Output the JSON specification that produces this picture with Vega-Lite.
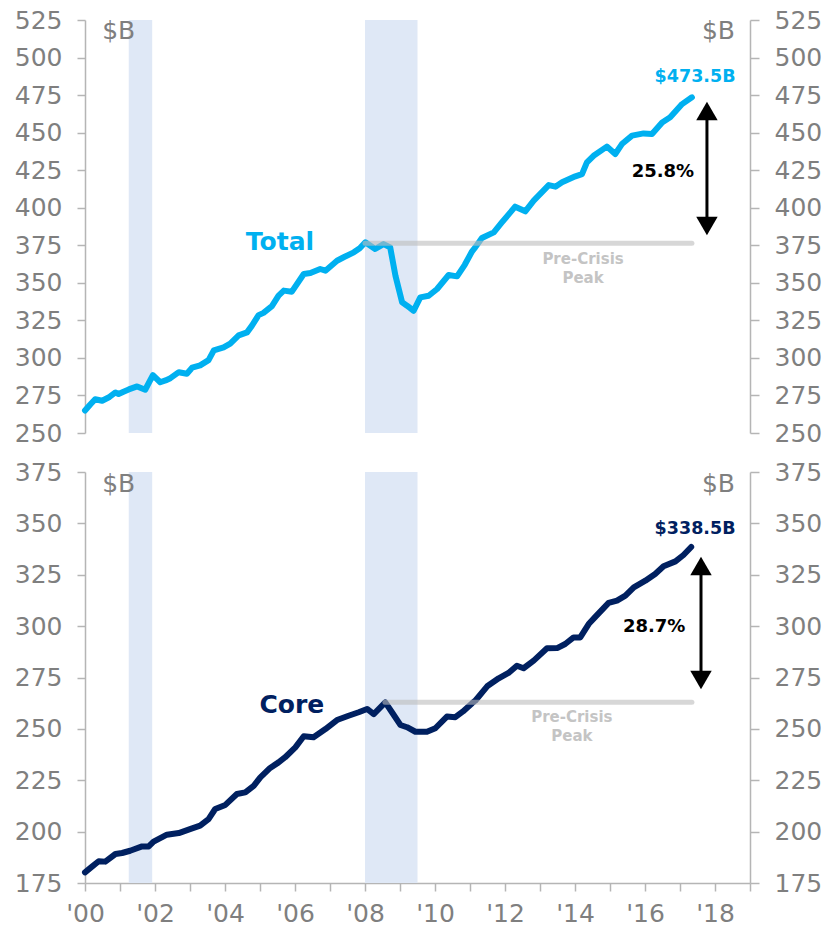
{
  "$schema": "https://vega.github.io/schema/vega-lite/v6.json",
  "padding": {"left": 14, "top": 8, "right": 5, "bottom": 5},
  "background": "white",
  "config": {
    "view": {"stroke": null},
    "font": "DejaVu Sans",
    "axis": {"labelFont": "DejaVu Sans", "labelFontSize": 25, "labelColor": "#7f7f7f", "domainColor": "#b5b5b5", "tickColor": "#b5b5b5", "domainWidth": 1.5, "tickWidth": 1.5, "grid": false, "title": null, "tickSize": 8, "labelPadding": 15, "labelFlush": false, "labelOverlap": false}
  },
  "datasets": {
    "recessions": [{"x": 2001.25, "x2": 2001.92}, {"x": 2008.0, "x2": 2009.5}],
    "total": [
      {"x": 2000.0, "value": 265}, {"x": 2000.15, "value": 269}, {"x": 2000.29, "value": 272.5}, {"x": 2000.49, "value": 271.5}, {"x": 2000.7, "value": 274}, {"x": 2000.87, "value": 277}, {"x": 2000.96, "value": 276}, {"x": 2001.1, "value": 277.5}, {"x": 2001.25, "value": 279}, {"x": 2001.49, "value": 281}, {"x": 2001.72, "value": 278.8}, {"x": 2001.94, "value": 288.5}, {"x": 2002.15, "value": 283.8}, {"x": 2002.3, "value": 285}, {"x": 2002.44, "value": 286.5}, {"x": 2002.68, "value": 290.5}, {"x": 2002.91, "value": 289.5}, {"x": 2003.06, "value": 293.5}, {"x": 2003.29, "value": 295}, {"x": 2003.53, "value": 298.5}, {"x": 2003.68, "value": 305}, {"x": 2003.96, "value": 307}, {"x": 2004.15, "value": 309.5}, {"x": 2004.39, "value": 315}, {"x": 2004.63, "value": 317}, {"x": 2004.77, "value": 321.5}, {"x": 2004.96, "value": 328.5}, {"x": 2005.1, "value": 330}, {"x": 2005.34, "value": 334.5}, {"x": 2005.53, "value": 341.5}, {"x": 2005.68, "value": 344.8}, {"x": 2005.91, "value": 344.1}, {"x": 2006.25, "value": 355.9}, {"x": 2006.44, "value": 356.5}, {"x": 2006.72, "value": 359.2}, {"x": 2006.87, "value": 358.1}, {"x": 2007.2, "value": 364.7}, {"x": 2007.39, "value": 367}, {"x": 2007.68, "value": 370.3}, {"x": 2007.85, "value": 373}, {"x": 2008.01, "value": 377}, {"x": 2008.29, "value": 372.5}, {"x": 2008.53, "value": 375.8}, {"x": 2008.72, "value": 373.6}, {"x": 2008.87, "value": 354.7}, {"x": 2009.06, "value": 337}, {"x": 2009.2, "value": 334.8}, {"x": 2009.39, "value": 331.4}, {"x": 2009.58, "value": 340.3}, {"x": 2009.82, "value": 341.4}, {"x": 2010.06, "value": 345.9}, {"x": 2010.39, "value": 355.2}, {"x": 2010.63, "value": 354.3}, {"x": 2010.85, "value": 362}, {"x": 2011.06, "value": 371}, {"x": 2011.15, "value": 373.6}, {"x": 2011.34, "value": 379.8}, {"x": 2011.68, "value": 383.6}, {"x": 2011.91, "value": 390.2}, {"x": 2012.29, "value": 400.7}, {"x": 2012.58, "value": 397.6}, {"x": 2012.82, "value": 404.7}, {"x": 2013.25, "value": 415.1}, {"x": 2013.44, "value": 414}, {"x": 2013.63, "value": 416.9}, {"x": 2014.01, "value": 420.9}, {"x": 2014.2, "value": 422.4}, {"x": 2014.34, "value": 430.2}, {"x": 2014.53, "value": 434.6}, {"x": 2014.91, "value": 440.7}, {"x": 2015.15, "value": 435.8}, {"x": 2015.34, "value": 442.4}, {"x": 2015.63, "value": 448}, {"x": 2015.96, "value": 449.5}, {"x": 2016.2, "value": 449.1}, {"x": 2016.49, "value": 456.8}, {"x": 2016.72, "value": 460.2}, {"x": 2017.06, "value": 469}, {"x": 2017.34, "value": 473.5}
    ],
    "core": [
      {"x": 2000.0, "value": 180.2}, {"x": 2000.2, "value": 183}, {"x": 2000.39, "value": 185.6}, {"x": 2000.58, "value": 185.4}, {"x": 2000.87, "value": 189.1}, {"x": 2001.06, "value": 189.6}, {"x": 2001.29, "value": 190.7}, {"x": 2001.63, "value": 192.8}, {"x": 2001.82, "value": 192.8}, {"x": 2001.96, "value": 195.1}, {"x": 2002.34, "value": 198.5}, {"x": 2002.68, "value": 199.3}, {"x": 2003.06, "value": 201.6}, {"x": 2003.29, "value": 202.9}, {"x": 2003.53, "value": 206.1}, {"x": 2003.72, "value": 211}, {"x": 2004.01, "value": 213}, {"x": 2004.34, "value": 218.3}, {"x": 2004.58, "value": 219.1}, {"x": 2004.82, "value": 222.3}, {"x": 2005.01, "value": 226.4}, {"x": 2005.29, "value": 231}, {"x": 2005.53, "value": 233.7}, {"x": 2005.72, "value": 236.2}, {"x": 2006.01, "value": 241}, {"x": 2006.25, "value": 246.4}, {"x": 2006.53, "value": 245.9}, {"x": 2006.87, "value": 249.9}, {"x": 2007.2, "value": 254.3}, {"x": 2007.53, "value": 256.4}, {"x": 2007.82, "value": 258.1}, {"x": 2008.06, "value": 259.7}, {"x": 2008.25, "value": 257.2}, {"x": 2008.58, "value": 262.9}, {"x": 2008.77, "value": 258.1}, {"x": 2009.01, "value": 251.9}, {"x": 2009.2, "value": 250.8}, {"x": 2009.44, "value": 248.6}, {"x": 2009.77, "value": 248.6}, {"x": 2010.01, "value": 250.3}, {"x": 2010.34, "value": 256}, {"x": 2010.58, "value": 255.7}, {"x": 2010.8, "value": 258.5}, {"x": 2011.06, "value": 262.5}, {"x": 2011.15, "value": 263.7}, {"x": 2011.49, "value": 270.7}, {"x": 2011.82, "value": 274.6}, {"x": 2012.1, "value": 277.2}, {"x": 2012.34, "value": 280.7}, {"x": 2012.53, "value": 279.5}, {"x": 2012.82, "value": 283.2}, {"x": 2013.2, "value": 289.2}, {"x": 2013.49, "value": 289.3}, {"x": 2013.72, "value": 291.3}, {"x": 2013.96, "value": 294.5}, {"x": 2014.15, "value": 294.5}, {"x": 2014.39, "value": 301}, {"x": 2014.58, "value": 304.5}, {"x": 2014.96, "value": 311.3}, {"x": 2015.2, "value": 312.4}, {"x": 2015.44, "value": 314.8}, {"x": 2015.68, "value": 318.9}, {"x": 2016.01, "value": 322.1}, {"x": 2016.29, "value": 325.4}, {"x": 2016.53, "value": 329.1}, {"x": 2016.87, "value": 331.5}, {"x": 2017.1, "value": 334.6}, {"x": 2017.32, "value": 338.5}
    ],
    "peaks": [
      {"panel": "Total", "x": 2008.0, "x2": 2017.34, "value": 376.4},
      {"panel": "Core", "x": 2008.57, "x2": 2017.34, "value": 263.0}
    ],
    "arrows": [
      {"panel": "Total", "x": 2017.77, "top": 464.4, "bottom": 387.8},
      {"panel": "Core", "x": 2017.6, "top": 329.3, "bottom": 273.8}
    ],
    "labels": [
      {"panel": "Total", "kind": "series", "x": 2005.57, "y": 377.2, "text": "Total"},
      {"panel": "Total", "kind": "value", "x": 2017.43, "y": 487.0, "text": "$473.5B"},
      {"panel": "Total", "kind": "pct", "x": 2016.51, "y": 423.8, "text": "25.8%"},
      {"panel": "Total", "kind": "peak", "x": 2014.23, "y": 365.8, "text": "Pre-Crisis"},
      {"panel": "Total", "kind": "peak", "x": 2014.23, "y": 353.2, "text": "Peak"},
      {"panel": "Total", "kind": "unitL", "x": 2000.49, "y": 517.6, "text": "$B"},
      {"panel": "Total", "kind": "unitR", "x": 2018.57, "y": 517.6, "text": "$B"},
      {"panel": "Core", "kind": "series", "x": 2005.91, "y": 261.6, "text": "Core"},
      {"panel": "Core", "kind": "value", "x": 2017.43, "y": 347.3, "text": "$338.5B"},
      {"panel": "Core", "kind": "pct", "x": 2016.26, "y": 299.6, "text": "28.7%"},
      {"panel": "Core", "kind": "peak", "x": 2013.91, "y": 255.8, "text": "Pre-Crisis"},
      {"panel": "Core", "kind": "peak", "x": 2013.91, "y": 246.5, "text": "Peak"},
      {"panel": "Core", "kind": "unitL", "x": 2000.49, "y": 369.2, "text": "$B"},
      {"panel": "Core", "kind": "unitR", "x": 2018.57, "y": 369.2, "text": "$B"}
    ]
  },
  "vconcat": [
    {
      "width": 665, "height": 413,
      "encoding": {"x": {"field": "x", "type": "quantitative", "scale": {"domain": [2000, 2019], "nice": false, "zero": false}, "axis": null}},
      "layer": [
        {"data": {"name": "recessions"}, "mark": {"type": "rect", "color": "#dfe8f6"},
         "encoding": {"x2": {"field": "x2"}}},
        {"data": {"name": "total"}, "mark": {"type": "line", "color": "#00b0f0", "strokeWidth": 6, "strokeJoin": "round", "strokeCap": "round"},
         "encoding": {"y": {"field": "value", "type": "quantitative", "scale": {"domain": [250, 525], "nice": false, "zero": false}, "axis": {"orient": "left", "values": [250, 275, 300, 325, 350, 375, 400, 425, 450, 475, 500, 525]}}}},
        {"data": {"name": "peaks"}, "transform": [{"filter": "datum.panel == 'Total'"}], "mark": {"type": "rule", "color": "#bdbdbd", "opacity": 0.6, "strokeWidth": 5, "strokeCap": "round"},
         "encoding": {"x2": {"field": "x2"},
                      "y": {"field": "value", "type": "quantitative", "scale": {"domain": [250, 525], "nice": false, "zero": false}, "axis": {"orient": "right", "values": [250, 275, 300, 325, 350, 375, 400, 425, 450, 475, 500, 525], "tickSize": 9, "labelPadding": 15}}}},
        {"data": {"name": "arrows"}, "transform": [{"filter": "datum.panel == 'Total'"}], "mark": {"type": "rule", "color": "black", "strokeWidth": 3},
         "encoding": {"y": {"field": "top", "type": "quantitative", "scale": {"domain": [250, 525], "nice": false, "zero": false}, "axis": null}, "y2": {"field": "bottom"}}},
        {"data": {"name": "arrows"}, "transform": [{"filter": "datum.panel == 'Total'"}], "mark": {"type": "point", "shape": "triangle-up", "filled": true, "color": "black", "size": 460, "opacity": 1},
         "encoding": {"y": {"field": "top", "type": "quantitative", "scale": {"domain": [250, 525], "nice": false, "zero": false}, "axis": null}}},
        {"data": {"name": "arrows"}, "transform": [{"filter": "datum.panel == 'Total'"}], "mark": {"type": "point", "shape": "triangle-down", "filled": true, "color": "black", "size": 460, "opacity": 1},
         "encoding": {"y": {"field": "bottom", "type": "quantitative", "scale": {"domain": [250, 525], "nice": false, "zero": false}, "axis": null}}},
        {"data": {"name": "labels"}, "transform": [{"filter": "datum.panel == 'Total' && datum.kind == 'series'"}], "mark": {"type": "text", "font": "DejaVu Sans", "fontWeight": "bold", "fontSize": 25, "color": "#00b0f0", "baseline": "middle"},
         "encoding": {"y": {"field": "y", "type": "quantitative", "scale": {"domain": [250, 525], "nice": false, "zero": false}, "axis": null}, "text": {"field": "text"}}},
        {"data": {"name": "labels"}, "transform": [{"filter": "datum.panel == 'Total' && datum.kind == 'value'"}], "mark": {"type": "text", "font": "DejaVu Sans", "fontWeight": "bold", "fontSize": 17.5, "color": "#00b0f0", "baseline": "middle"},
         "encoding": {"y": {"field": "y", "type": "quantitative", "scale": {"domain": [250, 525], "nice": false, "zero": false}, "axis": null}, "text": {"field": "text"}}},
        {"data": {"name": "labels"}, "transform": [{"filter": "datum.panel == 'Total' && datum.kind == 'pct'"}], "mark": {"type": "text", "font": "DejaVu Sans", "fontWeight": "bold", "fontSize": 18, "color": "black", "baseline": "middle"},
         "encoding": {"y": {"field": "y", "type": "quantitative", "scale": {"domain": [250, 525], "nice": false, "zero": false}, "axis": null}, "text": {"field": "text"}}},
        {"data": {"name": "labels"}, "transform": [{"filter": "datum.panel == 'Total' && datum.kind == 'peak'"}], "mark": {"type": "text", "font": "DejaVu Sans", "fontWeight": "bold", "fontSize": 15, "color": "#c4c4c4", "baseline": "middle"},
         "encoding": {"y": {"field": "y", "type": "quantitative", "scale": {"domain": [250, 525], "nice": false, "zero": false}, "axis": null}, "text": {"field": "text"}}},
        {"data": {"name": "labels"}, "transform": [{"filter": "datum.panel == 'Total' && datum.kind == 'unitL'"}], "mark": {"type": "text", "font": "DejaVu Sans", "fontSize": 25, "color": "#7f7f7f", "baseline": "middle", "align": "left"},
         "encoding": {"y": {"field": "y", "type": "quantitative", "scale": {"domain": [250, 525], "nice": false, "zero": false}, "axis": null}, "text": {"field": "text"}}},
        {"data": {"name": "labels"}, "transform": [{"filter": "datum.panel == 'Total' && datum.kind == 'unitR'"}], "mark": {"type": "text", "font": "DejaVu Sans", "fontSize": 25, "color": "#7f7f7f", "baseline": "middle", "align": "right"},
         "encoding": {"y": {"field": "y", "type": "quantitative", "scale": {"domain": [250, 525], "nice": false, "zero": false}, "axis": null}, "text": {"field": "text"}}}
      ],
      "resolve": {"axis": {"y": "independent"}}
    },
    {
      "width": 665, "height": 411,
      "encoding": {"x": {"field": "x", "type": "quantitative", "scale": {"domain": [2000, 2019], "nice": false, "zero": false},
                         "axis": {"orient": "bottom", "title": null, "values": [2000, 2001, 2002, 2003, 2004, 2005, 2006, 2007, 2008, 2009, 2010, 2011, 2012, 2013, 2014, 2015, 2016, 2017, 2018, 2019], "labelExpr": "datum.value % 2 == 0 && datum.value < 2019 ? \"'\" + substring(toString(datum.value), 2, 4) : ''", "labelPadding": 10}}},
      "layer": [
        {"data": {"name": "recessions"}, "mark": {"type": "rect", "color": "#dfe8f6"},
         "encoding": {"x2": {"field": "x2"}}},
        {"data": {"name": "core"}, "mark": {"type": "line", "color": "#002060", "strokeWidth": 6, "strokeJoin": "round", "strokeCap": "round"},
         "encoding": {"y": {"field": "value", "type": "quantitative", "scale": {"domain": [175, 375], "nice": false, "zero": false}, "axis": {"orient": "left", "values": [175, 200, 225, 250, 275, 300, 325, 350, 375]}}}},
        {"data": {"name": "peaks"}, "transform": [{"filter": "datum.panel == 'Core'"}], "mark": {"type": "rule", "color": "#bdbdbd", "opacity": 0.6, "strokeWidth": 5, "strokeCap": "round"},
         "encoding": {"x2": {"field": "x2"},
                      "y": {"field": "value", "type": "quantitative", "scale": {"domain": [175, 375], "nice": false, "zero": false}, "axis": {"orient": "right", "values": [175, 200, 225, 250, 275, 300, 325, 350, 375], "tickSize": 9, "labelPadding": 15}}}},
        {"data": {"name": "arrows"}, "transform": [{"filter": "datum.panel == 'Core'"}], "mark": {"type": "rule", "color": "black", "strokeWidth": 3},
         "encoding": {"y": {"field": "top", "type": "quantitative", "scale": {"domain": [175, 375], "nice": false, "zero": false}, "axis": null}, "y2": {"field": "bottom"}}},
        {"data": {"name": "arrows"}, "transform": [{"filter": "datum.panel == 'Core'"}], "mark": {"type": "point", "shape": "triangle-up", "filled": true, "color": "black", "size": 460, "opacity": 1},
         "encoding": {"y": {"field": "top", "type": "quantitative", "scale": {"domain": [175, 375], "nice": false, "zero": false}, "axis": null}}},
        {"data": {"name": "arrows"}, "transform": [{"filter": "datum.panel == 'Core'"}], "mark": {"type": "point", "shape": "triangle-down", "filled": true, "color": "black", "size": 460, "opacity": 1},
         "encoding": {"y": {"field": "bottom", "type": "quantitative", "scale": {"domain": [175, 375], "nice": false, "zero": false}, "axis": null}}},
        {"data": {"name": "labels"}, "transform": [{"filter": "datum.panel == 'Core' && datum.kind == 'series'"}], "mark": {"type": "text", "font": "DejaVu Sans", "fontWeight": "bold", "fontSize": 25, "color": "#002060", "baseline": "middle"},
         "encoding": {"y": {"field": "y", "type": "quantitative", "scale": {"domain": [175, 375], "nice": false, "zero": false}, "axis": null}, "text": {"field": "text"}}},
        {"data": {"name": "labels"}, "transform": [{"filter": "datum.panel == 'Core' && datum.kind == 'value'"}], "mark": {"type": "text", "font": "DejaVu Sans", "fontWeight": "bold", "fontSize": 17.5, "color": "#002060", "baseline": "middle"},
         "encoding": {"y": {"field": "y", "type": "quantitative", "scale": {"domain": [175, 375], "nice": false, "zero": false}, "axis": null}, "text": {"field": "text"}}},
        {"data": {"name": "labels"}, "transform": [{"filter": "datum.panel == 'Core' && datum.kind == 'pct'"}], "mark": {"type": "text", "font": "DejaVu Sans", "fontWeight": "bold", "fontSize": 18, "color": "black", "baseline": "middle"},
         "encoding": {"y": {"field": "y", "type": "quantitative", "scale": {"domain": [175, 375], "nice": false, "zero": false}, "axis": null}, "text": {"field": "text"}}},
        {"data": {"name": "labels"}, "transform": [{"filter": "datum.panel == 'Core' && datum.kind == 'peak'"}], "mark": {"type": "text", "font": "DejaVu Sans", "fontWeight": "bold", "fontSize": 15, "color": "#c4c4c4", "baseline": "middle"},
         "encoding": {"y": {"field": "y", "type": "quantitative", "scale": {"domain": [175, 375], "nice": false, "zero": false}, "axis": null}, "text": {"field": "text"}}},
        {"data": {"name": "labels"}, "transform": [{"filter": "datum.panel == 'Core' && datum.kind == 'unitL'"}], "mark": {"type": "text", "font": "DejaVu Sans", "fontSize": 25, "color": "#7f7f7f", "baseline": "middle", "align": "left"},
         "encoding": {"y": {"field": "y", "type": "quantitative", "scale": {"domain": [175, 375], "nice": false, "zero": false}, "axis": null}, "text": {"field": "text"}}},
        {"data": {"name": "labels"}, "transform": [{"filter": "datum.panel == 'Core' && datum.kind == 'unitR'"}], "mark": {"type": "text", "font": "DejaVu Sans", "fontSize": 25, "color": "#7f7f7f", "baseline": "middle", "align": "right"},
         "encoding": {"y": {"field": "y", "type": "quantitative", "scale": {"domain": [175, 375], "nice": false, "zero": false}, "axis": null}, "text": {"field": "text"}}}
      ],
      "resolve": {"axis": {"y": "independent"}}
    }
  ],
  "spacing": 14
}
